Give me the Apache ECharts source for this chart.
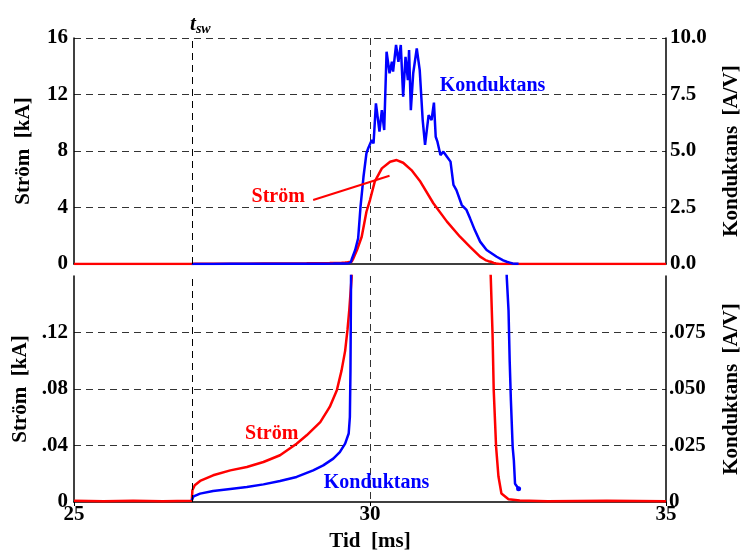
<!DOCTYPE html>
<html>
<head>
<meta charset="utf-8">
<script src="https://cdn.jsdelivr.net/npm/echarts@6/dist/echarts.min.js"></script>
<style>
html,body{margin:0;padding:0;background:#fff;}
#c{width:741px;height:551px;}
</style>
</head>
<body>
<div id="c"></div>
<script>
// ---- data (time in ms) ----
const stromT = [25.0, 25.5, 26.0, 26.5, 26.99, 27.0, 27.04, 27.13, 27.35, 27.64, 27.92, 28.2, 28.48, 28.76, 28.93, 29.16, 29.32, 29.44, 29.52, 29.58, 29.62, 29.65, 29.69, 29.72, 29.78, 29.86, 29.94, 30.0, 30.08, 30.2, 30.34, 30.45, 30.56, 30.7, 30.84, 31.07, 31.3, 31.52, 31.69, 31.86, 31.95, 32.0, 32.04, 32.07, 32.09, 32.13, 32.17, 32.22, 32.34, 32.53, 33.0, 34.0, 35.0];
const stromKA = [0.0008, 0.0005, 0.0008, 0.0005, 0.0008, 0.0083, 0.0118, 0.0149, 0.0189, 0.0224, 0.0248, 0.0283, 0.0331, 0.0413, 0.0472, 0.0566, 0.0673, 0.0791, 0.0932, 0.107, 0.122, 0.136, 0.159, 0.4, 0.99, 1.93, 3.70, 4.53, 5.83, 6.77, 7.24, 7.36, 7.17, 6.65, 5.9, 4.30, 3.0, 1.93, 1.22, 0.52, 0.28, 0.2, 0.159, 0.119, 0.079, 0.039, 0.018, 0.006, 0.002, 0.001, 0.0005, 0.0008, 0.0005];

const kondT = [26.99, 27.02, 27.13, 27.35, 27.64, 27.92, 28.2, 28.48, 28.76, 29.04, 29.21, 29.38, 29.49, 29.58, 29.64, 29.66, 29.67, 29.68, 29.69, 29.75, 29.80, 29.84, 29.89, 29.94, 29.97, 30.03, 30.06, 30.10, 30.16, 30.20, 30.24, 30.28, 30.33, 30.37, 30.39, 30.44, 30.48, 30.52, 30.56, 30.60, 30.64, 30.66, 30.69, 30.73, 30.79, 30.84, 30.89, 30.93, 30.99, 31.04, 31.08, 31.11, 31.14, 31.19, 31.24, 31.30, 31.36, 31.41, 31.46, 31.55, 31.63, 31.69, 31.77, 31.86, 31.97, 32.14, 32.25, 32.31, 32.34, 32.36, 32.38, 32.41, 32.43, 32.45, 32.51];
const kondAV = [0.0008, 0.0025, 0.0037, 0.0049, 0.0058, 0.0066, 0.0078, 0.0093, 0.0111, 0.014, 0.0162, 0.0192, 0.0221, 0.0258, 0.0303, 0.0376, 0.058, 0.0995, 0.2, 0.62, 1.14, 2.54, 3.86, 4.90, 5.12, 5.49, 5.34, 7.11, 5.86, 6.81, 5.93, 9.39, 8.44, 8.95, 8.51, 9.69, 8.95, 9.69, 7.40, 9.17, 8.14, 9.47, 6.81, 8.44, 9.54, 8.58, 6.37, 5.27, 6.59, 6.37, 7.14, 5.63, 5.4, 4.82, 4.97, 4.75, 4.53, 3.50, 3.27, 2.61, 2.39, 2.02, 1.50, 0.99, 0.62, 0.32, 0.16, 0.0995, 0.0848, 0.062, 0.045, 0.0243, 0.0184, 0.0081, 0.0059];

const xTicks = [25, 30, 35];
const tSwitch = 27.0;

const stromData = stromT.map((t, i) => [t, stromKA[i]]);
const kondData = kondT.map((t, i) => [t, kondAV[i]]);
const kondLast = kondData[kondData.length - 1];

const FONT = "'Liberation Serif', 'Times New Roman', serif";
const RED = '#ff0000', BLUE = '#0000ff';
const gridDash = { color: '#333', width: 1, type: [7, 5] };
const axisLineStyle = { show: true, lineStyle: { color: '#000', width: 1.5 } };
const lblStyle = { color: '#000', fontFamily: FONT, fontWeight: 'bold', fontSize: 21 };
const nameStyle = { color: '#000', fontFamily: FONT, fontWeight: 'bold', fontSize: 21 };

function xAxisCfg(gi, showLabels) {
  return {
    type: 'value', gridIndex: gi, min: xTicks[0], max: xTicks[xTicks.length - 1], interval: 5,
    axisLine: axisLineStyle,
    axisTick: { show: showLabels, length: 4, lineStyle: { color: '#000' } },
    axisLabel: Object.assign({ show: showLabels, margin: 2 }, lblStyle),
    splitLine: { show: true, showMinLine: false, showMaxLine: false, lineStyle: gridDash },
    name: showLabels ? 'Tid  [ms]' : '', nameLocation: 'middle', nameGap: 29, nameTextStyle: nameStyle
  };
}

const chart = echarts.init(document.getElementById('c'), null, { renderer: 'canvas' });
chart.setOption({
  animation: false,
  backgroundColor: '#fff',
  grid: [
    { left: 74, right: 75, top: 38, height: 226, containLabel: false, outerBoundsMode: 'none' },
    { left: 74, right: 75, top: 276, height: 226, containLabel: false, outerBoundsMode: 'none' }
  ],
  xAxis: [xAxisCfg(0, false), xAxisCfg(1, true)],
  yAxis: [
    { type: 'value', gridIndex: 0, position: 'left', min: 0, max: 16, interval: 4,
      axisLine: axisLineStyle, axisTick: { show: false },
      axisLabel: Object.assign({ margin: 6, formatter: v => String(v) }, lblStyle),
      splitLine: { show: true, showMinLine: false, lineStyle: gridDash },
      name: 'Ström  [kA]', nameLocation: 'middle', nameRotate: 90, nameGap: 40, nameTextStyle: nameStyle },
    { type: 'value', gridIndex: 0, position: 'right', min: 0, max: 10, interval: 2.5,
      axisLine: axisLineStyle, axisTick: { show: false },
      axisLabel: Object.assign({ margin: 4, formatter: v => v.toFixed(1) }, lblStyle),
      splitLine: { show: false },
      name: 'Konduktans  [A/V]', nameLocation: 'middle', nameRotate: 90, nameGap: 55, nameTextStyle: nameStyle },
    { type: 'value', gridIndex: 1, position: 'left', min: 0, max: 0.16, interval: 0.04,
      axisLine: axisLineStyle, axisTick: { show: false },
      axisLabel: Object.assign({ margin: 6, showMaxLabel: false,
        formatter: v => v === 0 ? '0' : v.toFixed(2).replace(/^0/, '') }, lblStyle),
      splitLine: { show: true, showMinLine: false, showMaxLine: false, lineStyle: gridDash },
      name: 'Ström  [kA]', nameLocation: 'middle', nameRotate: 90, nameGap: 40, nameTextStyle: nameStyle },
    { type: 'value', gridIndex: 1, position: 'right', min: 0, max: 0.1, interval: 0.025,
      axisLine: axisLineStyle, axisTick: { show: false },
      axisLabel: Object.assign({ margin: 3, showMaxLabel: false,
        formatter: v => v === 0 ? '0' : v.toFixed(3).replace(/^0/, '') }, lblStyle),
      splitLine: { show: false },
      name: 'Konduktans  [A/V]', nameLocation: 'middle', nameRotate: 90, nameGap: 55, nameTextStyle: nameStyle }
  ],
  series: [
    { type: 'line', xAxisIndex: 0, yAxisIndex: 0, data: stromData, showSymbol: false,
      lineStyle: { color: RED, width: 2.5 }, itemStyle: { color: RED }, z: 3,
      markLine: { silent: true, symbol: ['none', 'none'], animation: false,
        data: [
          { xAxis: tSwitch, lineStyle: { color: '#000', width: 1, type: [7, 5] },
            label: { show: true, position: 'end', distance: 2, offset: [8, 0],
              formatter: '{t|t}{s|sw}',
              rich: {
                t: { fontFamily: FONT, fontStyle: 'italic', fontWeight: 'bold', fontSize: 21, color: '#000', lineHeight: 22, verticalAlign: 'top' },
                s: { fontFamily: FONT, fontStyle: 'italic', fontWeight: 'bold', fontSize: 14, color: '#000', lineHeight: 14, verticalAlign: 'bottom', padding: [12, 0, 0, 0] }
              } } },
          [ { coord: [29.04, 4.53], lineStyle: { color: RED, width: 2, type: 'solid' }, label: { show: false } },
            { coord: [30.33, 6.25] } ]
        ] },
      markPoint: { silent: true, symbol: 'rect', symbolSize: 1, itemStyle: { color: 'rgba(0,0,0,0)' },
        label: { show: true, position: 'inside', color: RED, fontFamily: FONT, fontWeight: 'bold', fontSize: 20 },
        data: [ { coord: [28.45, 4.74], label: { formatter: 'Ström' } } ] } },
    { type: 'line', xAxisIndex: 0, yAxisIndex: 1, data: kondData, showSymbol: false,
      lineStyle: { color: BLUE, width: 2.5 }, itemStyle: { color: BLUE }, z: 4,
      markPoint: { silent: true, symbol: 'rect', symbolSize: 1, itemStyle: { color: 'rgba(0,0,0,0)' },
        label: { show: true, position: 'inside', color: BLUE, fontFamily: FONT, fontWeight: 'bold', fontSize: 20 },
        data: [ { coord: [32.07, 7.88], label: { formatter: 'Konduktans' } } ] } },
    { type: 'line', xAxisIndex: 1, yAxisIndex: 2, data: stromData, showSymbol: false,
      lineStyle: { color: RED, width: 2.5 }, itemStyle: { color: RED }, z: 3,
      markLine: { silent: true, symbol: ['none', 'none'], animation: false,
        data: [ { xAxis: tSwitch, lineStyle: { color: '#000', width: 1, type: [7, 5] }, label: { show: false } } ] },
      markPoint: { silent: true, symbol: 'rect', symbolSize: 1, itemStyle: { color: 'rgba(0,0,0,0)' },
        label: { show: true, position: 'inside', color: RED, fontFamily: FONT, fontWeight: 'bold', fontSize: 20 },
        data: [ { coord: [28.34, 0.0483], label: { formatter: 'Ström' } } ] } },
    { type: 'line', xAxisIndex: 1, yAxisIndex: 3, data: kondData, showSymbol: false,
      lineStyle: { color: BLUE, width: 2.5 }, itemStyle: { color: BLUE }, z: 4,
      markPoint: { silent: true, label: { show: true, position: 'inside', color: BLUE, fontFamily: FONT, fontWeight: 'bold', fontSize: 20 },
        data: [
          { coord: [30.11, 0.0085], symbol: 'rect', symbolSize: 1, itemStyle: { color: 'rgba(0,0,0,0)' }, label: { formatter: 'Konduktans' } },
          { coord: kondLast, symbol: 'circle', symbolSize: 5, itemStyle: { color: BLUE }, label: { show: false } }
        ] } }
  ]
});
</script>
</body>
</html>
